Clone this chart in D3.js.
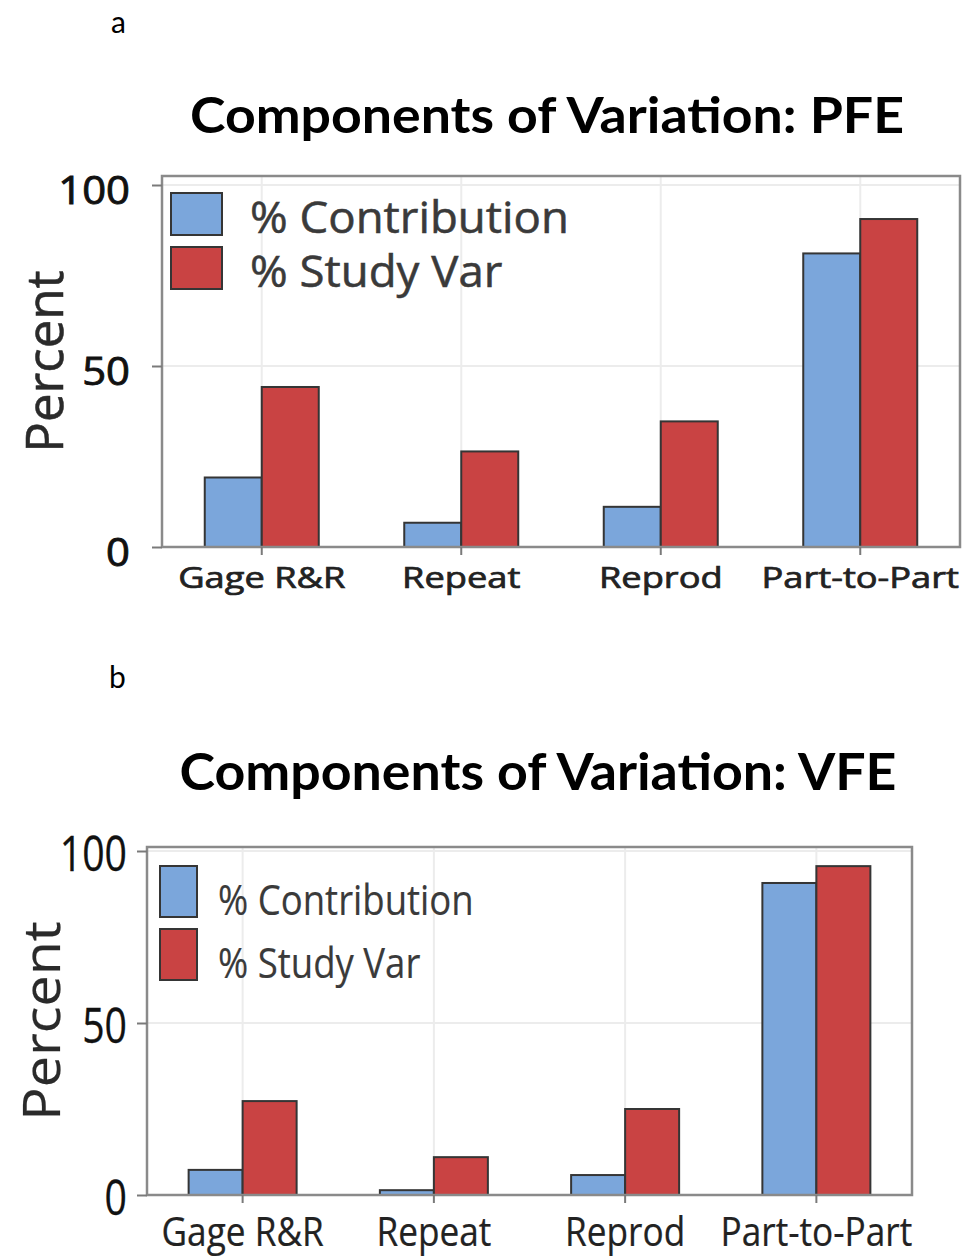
<!DOCTYPE html>
<html>
<head>
<meta charset="utf-8">
<script src="https://cdnjs.cloudflare.com/ajax/libs/d3/7.8.5/d3.min.js"></script>
<style>
  body { margin: 0; background: #fff; }
  svg { display: block; }
</style>
</head>
<body>
<div id="chart"></div>
<script>
var categories = ["Gage R&R", "Repeat", "Reprod", "Part-to-Part"];
var seriesNames = ["% Contribution", "% Study Var"];
var pfeContribution = [19.2, 6.7, 11.1, 81.1];
var pfeStudyVar = [44.2, 26.4, 34.7, 90.6];
var vfeContribution = [7.3, 1.4, 5.8, 90.7];
var vfeStudyVar = [27.3, 11.0, 25.0, 95.6];
var yTicks = [0, 50, 100];
var panelLabels = ["a", "b"];
var titles = ["Components of Variation: PFE", "Components of Variation: VFE"];

var colors = ["#7ba6db", "#c94343"];

var width = 966, height = 1259;

var svg = d3.select("#chart")
  .append("svg")
  .attr("width", width)
  .attr("height", height);

// layout of each panel (the source image was stretched differently in each)
var panels = [
  {
    series: [pfeContribution, pfeStudyVar],
    letter: { x: 111, y: 33 },
    title: { x: 547, y: 133, size: 50, len: 714 },
    left: 162, right: 960, top: 176, bottom: 547, y100: 185,
    barW: 57,
    heavy: 0.9,
    tick: { size: 38, sx: 1.1, gap: 32, dy: 18 },
    xlab: { size: 29, sx: 1.25, y: 588 },
    ylab: { x: 63, size: 52, sx: 0.98 },
    legend: { x: 171, y: 193, w: 51, h: 42, step: 54, tx: 250, size: 43, sx: 1.06, dy: 40 }
  },
  {
    series: [vfeContribution, vfeStudyVar],
    letter: { x: 109, y: 688 },
    title: { x: 538, y: 790, size: 51, len: 717 },
    left: 147, right: 912, top: 847, bottom: 1195, y100: 851,
    barW: 54,
    heavy: 0.3,
    tick: { size: 49, sx: 0.8, gap: 20, dy: 19 },
    xlab: { size: 40, sx: 0.88, y: 1246 },
    ylab: { x: 60, size: 52, sx: 1.07 },
    legend: { x: 160, y: 866, w: 37, h: 51, step: 63, tx: 218, size: 42, sx: 0.87, dy: 49 }
  }
];

function stretch(sel, sx) {
  sel.each(function() {
    var len = this.getComputedTextLength();
    d3.select(this)
      .attr("textLength", len * sx)
      .attr("lengthAdjust", "spacingAndGlyphs");
  });
}

panels.forEach(function(p, pi) {
  var g = svg.append("g");

  g.append("text")
    .attr("x", p.letter.x)
    .attr("y", p.letter.y)
    .style("font-family", "Lato, sans-serif")
    .style("font-size", "30px")
    .style("fill", "#000")
    .text(panelLabels[pi]);

  g.append("text")
    .attr("x", p.title.x)
    .attr("y", p.title.y)
    .attr("text-anchor", "middle")
    .attr("textLength", p.title.len)
    .attr("lengthAdjust", "spacingAndGlyphs")
    .style("font-family", "Lato, sans-serif")
    .style("font-weight", "bold")
    .style("font-size", p.title.size + "px")
    .style("fill", "#000")
    .text(titles[pi]);

  var x = d3.scaleBand()
    .domain(categories)
    .range([p.left, p.right]);

  var xs = d3.scaleBand()
    .domain(seriesNames)
    .range([-p.barW, p.barW]);

  var y = d3.scaleLinear()
    .domain([0, 100])
    .range([p.bottom, p.y100]);

  // gridlines
  g.selectAll(".hgrid")
    .data(yTicks.filter(function(d) { return d > 0; }))
    .enter()
    .append("line")
    .attr("x1", p.left)
    .attr("x2", p.right)
    .attr("y1", function(d) { return y(d); })
    .attr("y2", function(d) { return y(d); })
    .style("stroke", "#ececec")
    .style("stroke-width", 2);

  g.selectAll(".vgrid")
    .data(categories)
    .enter()
    .append("line")
    .attr("x1", function(d) { return x(d) + x.bandwidth() / 2; })
    .attr("x2", function(d) { return x(d) + x.bandwidth() / 2; })
    .attr("y1", p.top)
    .attr("y2", p.bottom)
    .style("stroke", "#ececec")
    .style("stroke-width", 2);

  // bars
  var bars = [];
  p.series.forEach(function(vals, si) {
    vals.forEach(function(v, ci) {
      bars.push({ cat: categories[ci], s: seriesNames[si], si: si, v: v });
    });
  });

  g.selectAll(".bar")
    .data(bars)
    .enter()
    .append("rect")
    .attr("x", function(d) { return x(d.cat) + x.bandwidth() / 2 + xs(d.s); })
    .attr("y", function(d) { return y(d.v); })
    .attr("width", xs.bandwidth())
    .attr("height", function(d) { return y(0) - y(d.v); })
    .style("fill", function(d) { return colors[d.si]; })
    .style("stroke", "#353535")
    .style("stroke-width", 2);

  // frame
  g.append("rect")
    .attr("x", p.left)
    .attr("y", p.top)
    .attr("width", p.right - p.left)
    .attr("height", p.bottom - p.top)
    .style("fill", "none")
    .style("stroke", "#8a8a8a")
    .style("stroke-width", 2.5);

  // y axis
  var yAxis = g.append("g")
    .attr("transform", "translate(" + p.left + ",0)")
    .call(d3.axisLeft(y).tickValues(yTicks).tickSize(10).tickPadding(p.tick.gap - 10));
  yAxis.select(".domain").remove();
  yAxis.selectAll(".tick line").style("stroke", "#7a7a7a").style("stroke-width", 2);
  yAxis.selectAll(".tick text")
    .attr("dy", null)
    .attr("y", p.tick.dy)
    .style("font-family", "'Open Sans', sans-serif")
    .style("font-size", p.tick.size + "px")
    .style("fill", "#111")
    .style("stroke", "#111")
    .style("stroke-width", p.heavy)
    .call(stretch, p.tick.sx);

  // x axis
  var xAxis = g.append("g")
    .attr("transform", "translate(0," + p.bottom + ")")
    .call(d3.axisBottom(x).tickSize(8).tickPadding(0));
  xAxis.select(".domain").remove();
  xAxis.selectAll(".tick line").style("stroke", "#7a7a7a").style("stroke-width", 2);
  xAxis.selectAll(".tick text")
    .attr("dy", null)
    .attr("y", p.xlab.y - p.bottom)
    .style("font-family", "'Open Sans', sans-serif")
    .style("font-size", p.xlab.size + "px")
    .style("fill", "#222")
    .style("stroke", "#222")
    .style("stroke-width", p.heavy * 0.8)
    .call(stretch, p.xlab.sx);

  // y title
  g.append("text")
    .attr("transform", "translate(" + p.ylab.x + "," + ((p.top + p.bottom) / 2) + ") rotate(-90)")
    .attr("text-anchor", "middle")
    .style("font-family", "'Open Sans', sans-serif")
    .style("font-size", p.ylab.size + "px")
    .style("fill", "#2a2a2a")
    .style("stroke", "#2a2a2a")
    .style("stroke-width", p.heavy * 0.6)
    .text("Percent")
    .call(stretch, p.ylab.sx);

  // legend
  var L = p.legend;
  var legend = g.selectAll(".legend")
    .data(seriesNames)
    .enter()
    .append("g")
    .attr("transform", function(d, i) {
      return "translate(" + L.x + "," + (L.y + i * L.step) + ")";
    });

  legend.append("rect")
    .attr("width", L.w)
    .attr("height", L.h)
    .style("fill", function(d, i) { return colors[i]; })
    .style("stroke", "#353535")
    .style("stroke-width", 2);

  legend.append("text")
    .attr("x", L.tx - L.x)
    .attr("y", L.dy)
    .style("font-family", "'Open Sans', sans-serif")
    .style("font-size", L.size + "px")
    .style("fill", "#3a3a3a")
    .style("stroke", "#3a3a3a")
    .style("stroke-width", p.heavy * 0.6)
    .text(function(d) { return d; })
    .call(stretch, L.sx);
});
</script>
</body>
</html>
